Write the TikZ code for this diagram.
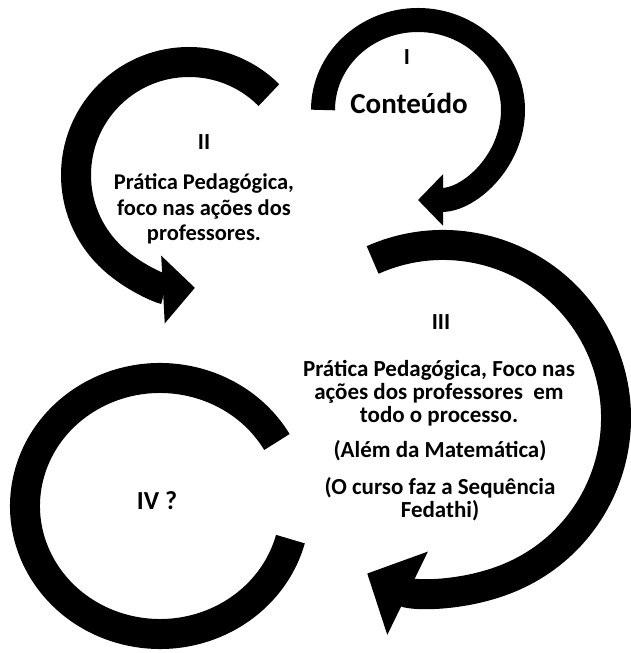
\documentclass[tikz,border=0pt]{standalone}
\usepackage{fontspec}
\setmainfont{Carlito}
\usetikzlibrary{arrows.meta}
\tikzset{
  ring/.style = {line width=30pt, black},
  stagetitle/.style = {align=center, inner sep=0pt, font=\fontsize{23}{27}\selectfont\bfseries},
  stagetext/.style = {align=center, inner sep=0pt, font=\fontsize{23}{23}\selectfont\bfseries}
}

\begin{document}
\begin{tikzpicture}[x=1pt,y=1pt]
  \useasboundingbox (0,0) rectangle (631,653);
  \coordinate (cI) at (418,543);
  \coordinate (cII) at (189,478);
  \coordinate (cIII) at (443,235);
  \coordinate (cIV) at (160,147);

  \draw[ring, line width=24pt, -{Triangle[width=50pt,length=25pt]}]
    (cI) ++(180:95pt and 90pt) arc[start angle=180, end angle=-90, x radius=95pt, y radius=90pt];
  \draw[ring, -{Triangle[width=66pt,length=32pt]}]
    (cII) ++(45:113pt) arc[start angle=45, end angle=273, radius=113pt];
  \draw[ring, -{Triangle[width=90pt,length=45pt]}]
    (cIII) ++(114:173pt) arc[start angle=114, end angle=-116, radius=173pt];
  \draw[ring]
    (cIV) ++(30:135pt and 128pt) arc[start angle=30, end angle=345, x radius=135pt, y radius=128pt];

  \node[stagetitle] (numI) at (407,596) {I};
  \node[stagetitle, font=\fontsize{29}{33}\selectfont\bfseries] (conteudo) at (409,550) {Conteúdo};
  \node[stagetitle] (numII) at (204,511) {II};
  \node[stagetext, font=\fontsize{22.5}{25.5}\selectfont\bfseries] (pratica) at (204,444) {Prática Pedagógica,\\ foco nas ações dos\\ professores.};
  \node[stagetitle] (numIII) at (441,331) {III};
  \node[stagetext] (foco) at (439,260) {Prática Pedagógica, Foco nas\\ ações dos professores\ \ em\\ todo o processo.};
  \node[stagetext] (alem) at (440,202) {(Além da Matemática)};
  \node[stagetext] (curso) at (440,154) {(O curso faz a Sequência\\ Fedathi)};
  \node[stagetitle, font=\fontsize{26}{30}\selectfont\bfseries] (numIV) at (157,152) {IV ?};
\end{tikzpicture}
\end{document}
